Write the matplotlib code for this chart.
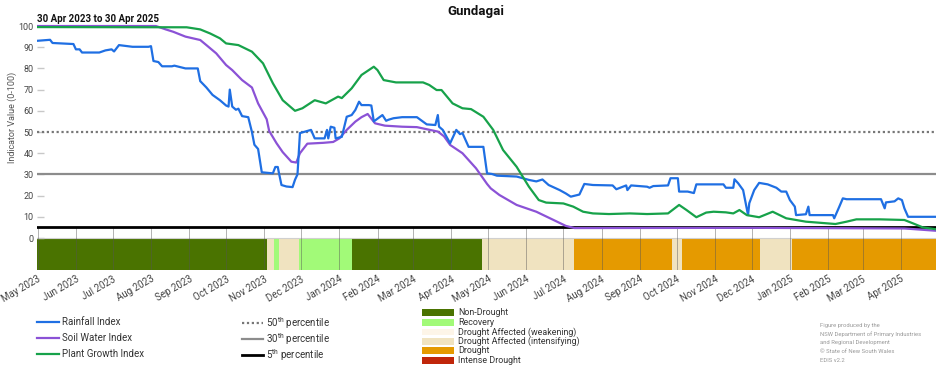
"""Gundagai drought indicator chart, 30 Apr 2023 to 30 Apr 2025."""

import matplotlib

matplotlib.use("Agg")
import matplotlib.dates as mdates
import matplotlib.pyplot as plt
import pandas as pd
from matplotlib.lines import Line2D
from matplotlib.patches import Rectangle

plt.rcParams["font.family"] = ["Roboto", "DejaVu Sans"]
plt.rcParams["mathtext.default"] = "regular"

W, H = 952, 370

rain_dates = [
    "2023-04-30", "2023-05-11", "2023-05-13", "2023-05-30", "2023-06-01", "2023-06-04",
    "2023-06-06", "2023-06-20", "2023-06-25", "2023-06-30", "2023-07-02", "2023-07-06",
    "2023-07-17", "2023-07-30", "2023-08-01", "2023-08-03", "2023-08-07", "2023-08-10",
    "2023-08-18", "2023-08-20", "2023-08-29", "2023-09-08", "2023-09-10", "2023-09-15",
    "2023-09-20", "2023-09-26", "2023-10-01", "2023-10-03", "2023-10-04", "2023-10-06",
    "2023-10-09", "2023-10-11", "2023-10-14", "2023-10-19", "2023-10-22", "2023-10-24",
    "2023-10-27", "2023-10-30", "2023-11-08", "2023-11-10", "2023-11-12", "2023-11-13",
    "2023-11-15", "2023-11-19", "2023-11-24", "2023-11-26", "2023-11-28", "2023-11-30",
    "2023-12-09", "2023-12-12", "2023-12-20", "2023-12-22", "2023-12-23", "2023-12-25",
    "2023-12-28", "2023-12-29", "2024-01-03", "2024-01-07", "2024-01-11", "2024-01-14",
    "2024-01-17", "2024-01-19", "2024-01-25", "2024-01-27", "2024-01-29", "2024-02-05",
    "2024-02-08", "2024-02-10", "2024-02-14", "2024-02-21", "2024-03-04", "2024-03-12",
    "2024-03-19", "2024-03-21", "2024-03-22", "2024-03-25", "2024-03-31", "2024-04-05",
    "2024-04-08", "2024-04-10", "2024-04-15", "2024-04-27", "2024-04-30", "2024-05-04",
    "2024-05-08", "2024-05-24", "2024-06-03", "2024-06-09", "2024-06-14", "2024-06-19",
    "2024-06-28", "2024-07-03", "2024-07-07", "2024-07-14", "2024-07-18", "2024-07-25",
    "2024-08-10", "2024-08-13", "2024-08-21", "2024-08-22", "2024-08-25", "2024-09-07",
    "2024-09-09", "2024-09-12", "2024-09-24", "2024-09-26", "2024-10-02", "2024-10-03",
    "2024-10-10", "2024-10-15", "2024-10-17", "2024-11-08", "2024-11-10", "2024-11-16",
    "2024-11-17", "2024-11-20", "2024-11-24", "2024-11-28", "2024-11-29", "2024-12-03",
    "2024-12-07", "2024-12-14", "2024-12-21", "2024-12-25", "2024-12-29", "2025-01-01",
    "2025-01-05", "2025-01-06", "2025-01-14", "2025-01-16", "2025-01-17", "2025-02-05",
    "2025-02-06", "2025-02-09", "2025-02-10", "2025-02-13", "2025-02-16", "2025-03-16",
    "2025-03-19", "2025-03-20", "2025-03-27", "2025-03-30", "2025-04-02", "2025-04-04",
    "2025-04-07", "2025-04-30",
]
rain_values = [
    93, 93.5, 92, 91.5, 89, 89,
    87.5, 87.5, 88.5, 89, 88, 91,
    90.2, 90.2, 90.5, 83.5, 83, 81,
    81, 81.3, 80, 80, 74, 71,
    67.5, 65, 62.5, 62, 70, 62,
    60.5, 61, 57.5, 57, 50, 44,
    42, 31, 30.5, 33.5, 33.5, 30.5,
    25, 24.3, 24, 27.5, 30, 49.5,
    51, 47, 47, 51, 47, 52.5,
    52, 47, 47.7, 57.2, 58, 60.4,
    64.3, 62.7, 62.7, 62.5, 55, 58,
    55.3, 55.8, 56.5, 57, 57, 53.6,
    53.3, 58, 52.5, 51, 44.7, 51,
    49, 49.5, 43, 43, 30.5, 30.2,
    29.4, 29, 27.4, 26.7, 27.6, 25,
    22.6, 21, 19.5, 20.5, 25.5, 25,
    24.8, 23, 24.8, 22.6, 24.8, 24.2,
    23.7, 24.5, 24.8, 28.2, 28.2, 21.9,
    21.9, 21.2, 25.3, 25.3, 23.7, 23.7,
    27.7, 25.8, 22.6, 10.8, 16.4, 22.6,
    26, 25.3, 23.7, 21.9, 21.9, 17.9,
    14.8, 10.8, 11.2, 14.8, 10.8, 10.8,
    9.3, 13.2, 14.6, 18.7, 18.3, 18.3,
    14, 16.8, 17.3, 18.7, 17.9, 14,
    10, 10,
]

soil_dates = [
    "2023-04-30", "2023-08-05", "2023-08-13", "2023-08-19", "2023-08-29", "2023-09-10",
    "2023-09-15", "2023-09-23", "2023-10-01", "2023-10-06", "2023-10-14", "2023-10-22",
    "2023-10-27", "2023-11-03", "2023-11-05", "2023-11-11", "2023-11-16", "2023-11-23",
    "2023-11-27", "2023-11-30", "2023-12-06", "2023-12-19", "2023-12-27", "2024-01-01",
    "2024-01-07", "2024-01-14", "2024-01-19", "2024-01-24", "2024-01-30", "2024-02-07",
    "2024-02-21", "2024-03-04", "2024-03-21", "2024-03-26", "2024-03-31", "2024-04-10",
    "2024-04-21", "2024-04-30", "2024-05-03", "2024-05-10", "2024-05-24", "2024-06-09",
    "2024-06-23", "2024-07-03", "2024-07-10", "2024-12-01", "2025-04-04", "2025-04-16",
    "2025-04-30",
]
soil_values = [
    100, 100, 98.4, 97.3, 95, 93.4,
    91, 87.1, 81.6, 79.2, 74.5, 71,
    63.5, 56, 50.5, 44.7, 40.5, 36,
    35.6, 40, 44.5, 44.9, 45.3, 47,
    51, 54.9, 57, 58.5, 54.1, 53,
    52.5, 52.3, 50.2, 48, 43.9, 40,
    32.9, 25.5, 23.4, 20.3, 15.6, 12.4,
    8.5, 5.7, 4.7, 4.8, 4.5, 4,
    3.4,
]

plant_dates = [
    "2023-04-30", "2023-08-30", "2023-09-10", "2023-09-18", "2023-09-26", "2023-10-01",
    "2023-10-11", "2023-10-22", "2023-10-31", "2023-11-08", "2023-11-16", "2023-11-26",
    "2023-12-02", "2023-12-12", "2023-12-21", "2023-12-31", "2024-01-03", "2024-01-11",
    "2024-01-19", "2024-01-29", "2024-02-01", "2024-02-06", "2024-02-16", "2024-03-09",
    "2024-03-14", "2024-03-20", "2024-03-24", "2024-04-02", "2024-04-10", "2024-04-17",
    "2024-04-27", "2024-05-05", "2024-05-13", "2024-05-24", "2024-06-03", "2024-06-11",
    "2024-06-17", "2024-07-01", "2024-07-09", "2024-07-17", "2024-07-25", "2024-08-07",
    "2024-08-24", "2024-09-07", "2024-09-24", "2024-10-03", "2024-10-09", "2024-10-17",
    "2024-10-25", "2024-10-31", "2024-11-10", "2024-11-16", "2024-11-21", "2024-11-27",
    "2024-12-07", "2024-12-18", "2024-12-29", "2025-01-14", "2025-01-25", "2025-02-07",
    "2025-02-16", "2025-02-24", "2025-03-15", "2025-04-04", "2025-04-11", "2025-04-19",
    "2025-04-30",
]
plant_values = [
    99.5, 99.4, 98.4, 96.5, 94.2, 91.8,
    91, 87.9, 82.4, 73, 65, 60,
    61.2, 65, 63.5, 66.7, 66, 70.6,
    76.9, 80.8, 79.2, 74.5, 73.4, 73.4,
    72.2, 69.8, 69.8, 63.5, 61.2, 60.8,
    57.2, 51, 41.5, 33.6, 24.2, 17.9,
    16.7, 16.3, 14.8, 12.4, 11.6, 11.3,
    11.6, 11.3, 11.6, 15.6, 13.2, 9.8,
    12, 12.4, 12.1, 11.6, 13.2, 10.8,
    9.8, 12.4, 9.3, 7.7, 7.2, 6.6,
    7.7, 8.8, 8.8, 8.5, 6.9, 5,
    4.1,
]

# drought category periods: start, end, category
cat_starts = [
    "2023-04-30", "2023-11-03", "2023-11-09", "2023-11-13", "2023-11-29", "2024-01-11",
    "2024-04-26", "2024-07-10", "2024-09-27", "2024-10-05", "2024-12-08", "2025-01-03",
]
cat_ends = [
    "2023-11-03", "2023-11-09", "2023-11-13", "2023-11-29", "2024-01-11", "2024-04-26",
    "2024-07-10", "2024-09-27", "2024-10-05", "2024-12-08", "2025-01-03", "2025-04-30",
]
cat_periods = [
    "Non-Drought", "Drought Affected (intensifying)", "Recovery",
    "Drought Affected (intensifying)", "Recovery", "Non-Drought",
    "Drought Affected (intensifying)", "Drought", "Drought Affected (intensifying)",
    "Drought", "Drought Affected (intensifying)", "Drought",
]

category_names = [
    "Non-Drought", "Recovery", "Drought Affected (weakening)",
    "Drought Affected (intensifying)", "Drought", "Intense Drought",
]
category_colors = ["#4a7300", "#a2fa78", "#fdf5e8", "#f0e3c0", "#e59a00", "#c0260a"]

percentile_levels = [50, 30, 5]
percentile_labels = ["50$^{th}$ percentile", "30$^{th}$ percentile", "5$^{th}$ percentile"]

credits = [
    "Figure produced by the",
    "NSW Department of Primary Industries",
    "and Regional Development",
    "\u00a9 State of New South Wales",
    "EDIS v2.2",
]

RAIN_C = "#1f6fe3"
SOIL_C = "#8b52d6"
PLANT_C = "#17a24a"


def fx(px):
    return px / W


def fy(py):
    return 1 - py / H


fig = plt.figure(figsize=(W / 100, H / 100), dpi=100)
ax = fig.add_axes([fx(36.5), fy(269.8), (936.4 - 36.5) / W, (269.8 - 23.9) / H])

start = pd.Timestamp("2023-04-30")
end = pd.Timestamp("2025-04-30")
ax.set_xlim(start, end)
ax.set_ylim(-15, 101)

# drought category bar along the bottom
color_of = dict(zip(category_names, category_colors))
for s, e, cat in zip(cat_starts, cat_ends, cat_periods):
    s_num = mdates.date2num(pd.Timestamp(s))
    e_num = mdates.date2num(pd.Timestamp(e))
    ax.broken_barh([(s_num, e_num - s_num)], (-15, 15), facecolors=color_of[cat], zorder=1)
ax.axhline(0, color="#d0d0d0", lw=0.8, zorder=1.5)

ax.xaxis.set_major_locator(mdates.MonthLocator())
ax.xaxis.set_major_formatter(mdates.DateFormatter("%b %Y"))
month_ticks = ax.get_xticks()
ax.vlines(month_ticks, -15, 5, color="#555555", lw=0.7, alpha=0.45, zorder=2)

# percentile reference lines
ax.axhline(percentile_levels[0], color="#777777", lw=1.6, ls=(0, (1, 1.2)), zorder=2)
ax.axhline(percentile_levels[1], color="#8c8c8c", lw=1.6, zorder=2)
ax.axhline(percentile_levels[2], color="black", lw=2.0, zorder=2)

ax.plot(pd.to_datetime(rain_dates), rain_values, color=RAIN_C, lw=1.6, zorder=4)
ax.plot(pd.to_datetime(soil_dates), soil_values, color=SOIL_C, lw=1.6, zorder=3)
ax.plot(pd.to_datetime(plant_dates), plant_values, color=PLANT_C, lw=1.6, zorder=5)

for side in ["top", "right", "bottom", "left"]:
    ax.spines[side].set_visible(False)

ax.set_yticks(range(0, 101, 10))
ax.tick_params(axis="y", direction="in", length=5, color="#c8c8c8", width=1,
               labelsize=6.5, labelcolor="#444444", pad=2)
ax.tick_params(axis="x", length=0, labelsize=7, labelcolor="#444444", pad=3)
plt.setp(ax.get_xticklabels(), rotation=30, ha="right", rotation_mode="anchor")

ax.set_ylabel("Indicator Value (0-100)", fontsize=6.5, color="#555555")
ax.yaxis.set_label_coords(-0.0217, 0.62)

fig.text(0.5, fy(12), "Gundagai", ha="center", va="center", fontsize=9.5,
         fontweight="bold", color="#111111")
fig.text(fx(37), fy(18.5), "30 Apr 2023 to 30 Apr 2025", ha="left", va="center",
         fontsize=7, fontweight="bold", color="#111111")

# legend: indices
index_names = ["Rainfall Index", "Soil Water Index", "Plant Growth Index"]
index_colors = [RAIN_C, SOIL_C, PLANT_C]
for name, color, py in zip(index_names, index_colors, [321.7, 337.7, 354]):
    fig.add_artist(Line2D([fx(37.3), fx(59)], [fy(py), fy(py)], color=color, lw=1.6))
    fig.text(fx(61.7), fy(py), name, va="center", fontsize=7, color="#333333")

# legend: percentiles
perc_styles = [
    dict(color="#777777", lw=1.6, ls=(0, (1, 1.2))),
    dict(color="#8c8c8c", lw=1.6),
    dict(color="black", lw=2.0),
]
for label, style, py in zip(percentile_labels, perc_styles, [322.7, 339.3, 355]):
    fig.add_artist(Line2D([fx(241.7), fx(263.3)], [fy(py), fy(py)], **style))
    fig.text(fx(265.7), fy(py), label, va="center", fontsize=7, color="#333333")

# legend: drought categories
for name, color, py in zip(category_names, category_colors,
                           [312.3, 322.3, 332.0, 341.2, 350.7, 360.3]):
    fig.add_artist(Rectangle((fx(421.7), fy(py + 3.4)), (454.3 - 421.7) / W, 6.8 / H,
                             transform=fig.transFigure, facecolor=color, edgecolor="none"))
    fig.text(fx(458.3), fy(py), name, va="center", fontsize=6.4, color="#333333")

for line, py in zip(credits, [325, 333.7, 342.5, 351.3, 360.3]):
    fig.text(fx(820), fy(py), line, va="center", fontsize=4.2, color="#999999")

fig.savefig("out.png", dpi=100)
